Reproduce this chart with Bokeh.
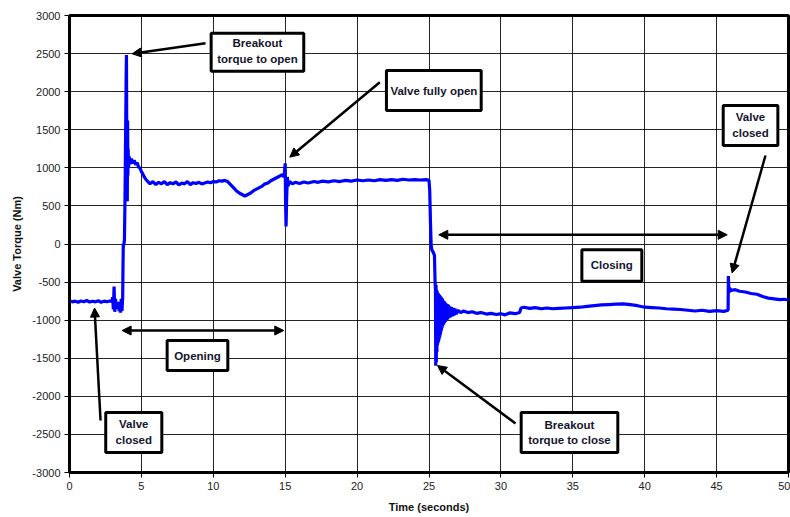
from bokeh.plotting import figure
from bokeh.models import Range1d, FixedTicker, BoxAnnotation, Label, Arrow, NormalHead
from bokeh.embed import file_html
from bokeh.resources import INLINE

# ---- data ----
time_s = [0.0, 0.2, 0.4, 0.6, 0.8, 1.0, 1.2, 1.4, 1.6, 1.8, 2.0, 2.2, 2.4, 2.6, 2.8, 2.95,
          3.0, 3.05, 3.1, 3.15, 3.2, 3.25, 3.3, 3.35, 3.4, 3.45, 3.5, 3.55, 3.6, 3.65, 3.68,
          3.70, 3.72, 3.74, 3.78, 3.82, 3.86, 3.90, 3.94, 3.96, 3.98, 4.0, 4.02, 4.04, 4.06,
          4.08, 4.1, 4.15, 4.2, 4.3, 4.4, 4.5, 4.6, 4.7, 4.8, 4.9, 5.0, 5.1, 5.2, 5.3, 5.4,
          5.6, 5.8, 6.0, 6.2, 6.4, 6.6, 6.8, 7.0, 7.2, 7.4, 7.6, 7.8, 8.0, 8.2, 8.4, 8.6, 8.8,
          9.0, 9.2, 9.4, 9.6, 9.8, 10.0, 10.2, 10.4, 10.6, 10.8, 11.0, 11.2, 11.4, 11.6, 11.8,
          12.0, 12.2, 12.4, 12.6, 12.8, 13.0, 13.2, 13.4, 13.6, 13.8, 14.0, 14.2, 14.4, 14.6,
          14.8, 14.9, 14.95, 15.0, 15.03, 15.06, 15.1, 15.15, 15.2, 15.3, 15.5, 15.7, 16.0,
          16.3, 16.6, 17.0, 17.3, 17.6, 18.0, 18.4, 18.8, 19.2, 19.6, 20.0, 20.4, 20.8, 21.2,
          21.6, 22.0, 22.4, 22.8, 23.2, 23.6, 24.0, 24.4, 24.8, 25.0, 25.05, 25.1, 25.15, 25.2,
          25.3, 25.38, 25.42, 25.45, 25.47, 25.49, 25.51, 25.53, 25.55, 25.57, 25.59, 25.61,
          25.63, 25.65, 25.67, 25.69, 25.71, 25.73, 25.75, 25.77, 25.79, 25.81, 25.83, 25.85,
          25.87, 25.89, 25.91, 25.93, 25.95, 25.98, 26.01, 26.04, 26.07, 26.1, 26.14, 26.18,
          26.22, 26.26, 26.3, 26.35, 26.4, 26.45, 26.5, 26.56, 26.62, 26.68, 26.74, 26.8,
          26.9, 27.0, 27.2, 27.4, 27.7, 28.0, 28.3, 28.6, 29.0, 29.3, 29.7, 30.0, 30.3,
          30.6, 31.0, 31.3, 31.4, 31.6, 32.0, 32.4, 32.8, 33.2, 33.6, 34.0, 34.5, 35.0, 35.5,
          36.0, 36.5, 37.0, 37.5, 38.0, 38.5, 39.0, 39.5, 40.0, 40.5, 41.0, 41.5, 42.0, 42.5,
          43.0, 43.5, 44.0, 44.5, 45.0, 45.5, 45.8, 45.82, 45.86, 45.9, 46.0, 46.3, 46.6, 47.0,
          47.4, 47.8, 48.2, 48.6, 49.0, 49.4, 49.7, 50.0]
torque_nm = [-745, -760, -750, -765, -748, -758, -742, -762, -752, -760, -745, -765, -750, -758, -748, -755,
             -700, -860, -560, -890, -720, -850, -790, -830, -760, -880, -780, -900, -720, -880, -760,
             -700, -300, -20, 0, 50, 600, 1400, 2200, 2480, 1500, 700, 560, 1620, 900,
             1250, 1000, 1150, 1050, 1120, 1060, 1100, 1040, 1070, 1010, 1000, 950, 920, 880, 850, 830,
             790, 820, 780, 810, 790, 820, 780, 805, 790, 815, 775, 800, 790, 820, 780, 805, 795,
             810, 790, 800, 815, 805, 820, 815, 830, 825, 835, 820, 780, 740, 700, 670,
             650, 630, 650, 670, 700, 720, 740, 760, 790, 800, 830, 850, 870, 890,
             910, 880, 940, 1060, 500, 230, 600, 880, 760, 820, 790, 810, 795,
             815, 800, 820, 810, 825, 815, 830, 820, 835, 825, 840, 830, 840, 830,
             845, 835, 845, 835, 850, 840, 845, 840, 845, 835, 700, 300, -20, -80,
             -110, -150, -480, -600, -1600, -540, -1550, -600, -1420, -620, -1330, -640,
             -1300, -650, -1280, -660, -1250, -670, -1220, -680, -1190, -690, -1160, -700,
             -1130, -710, -1100, -720, -1080, -740, -1060, -750, -1040, -760, -1020, -780,
             -1000, -790, -990, -800, -970, -820, -960, -830, -950, -840, -940, -850,
             -920, -870, -900, -880, -900, -890, -910, -900, -920, -910, -925, -915, -930,
             -905, -915, -900, -840, -830, -845, -835, -850, -840, -850, -845, -840, -835, -830,
             -820, -810, -800, -795, -790, -785, -795, -810, -830, -835, -840, -850, -855, -860,
             -870, -880, -870, -885, -875, -885, -870, -420, -640, -580, -610, -600, -620, -630,
             -650, -660, -690, -710, -720, -730, -725, -735]

x_ticks = [0, 5, 10, 15, 20, 25, 30, 35, 40, 45, 50]
x_tick_labels = ["0", "5", "10", "15", "20", "25", "30", "35", "40", "45", "50"]
y_ticks = [-3000, -2500, -2000, -1500, -1000, -500, 0, 500, 1000, 1500, 2000, 2500, 3000]
y_tick_labels = ["-3000", "-2500", "-2000", "-1500", "-1000", "-500", "0", "500", "1000",
                 "1500", "2000", "2500", "3000"]

FONT = "Liberation Sans"
TXT = "#15152e"

p = figure(width=790, height=517, output_backend="svg", toolbar_location=None,
           x_range=Range1d(0, 50), y_range=Range1d(-3000, 3000),
           min_border_left=69, min_border_right=2, min_border_top=15, min_border_bottom=45)
p.background_fill_color = "white"
p.border_fill_color = "white"
p.outline_line_color = "black"
p.outline_line_width = 3

p.xaxis.ticker = FixedTicker(ticks=x_ticks)
p.yaxis.ticker = FixedTicker(ticks=y_ticks)
p.xaxis.major_label_overrides = {t: l for t, l in zip(x_ticks, x_tick_labels)}
p.yaxis.major_label_overrides = {t: l for t, l in zip(y_ticks, y_tick_labels)}

for ax in (p.xaxis[0], p.yaxis[0]):
    ax.axis_line_color = "black"
    ax.axis_line_width = 3
    ax.major_tick_out = 5
    ax.major_tick_in = 0
    ax.minor_tick_out = 0
    ax.minor_tick_in = 0
    ax.major_tick_line_color = "black"
    ax.major_tick_line_width = 1
    ax.major_label_text_font = FONT
    ax.major_label_text_font_size = "11px"
    ax.major_label_text_color = "#222222"
    ax.major_label_standoff = 4
    ax.axis_label_text_font = FONT
    ax.axis_label_text_font_size = "11px"
    ax.axis_label_text_font_style = "bold"
    ax.axis_label_text_color = "#111111"

p.xaxis.axis_label = "Time (seconds)"
p.yaxis.axis_label = "Valve Torque (Nm)"
p.xaxis.axis_label_standoff = 8
p.yaxis.axis_label_standoff = 6

p.grid.grid_line_color = "black"
p.grid.grid_line_alpha = 0.85
p.grid.grid_line_width = 1

p.line(time_s, torque_nm, line_color="#0000ff", line_width=3.2)

# ---- annotations ----
boxes = [
    (9.85, 16.29, 2768, 2269),
    (22.04, 28.63, 2278, 1753),
    (45.46, 49.26, 1818, 1293),
    (35.63, 39.80, -76, -488),
    (6.79, 11.01, -1267, -1661),
    (2.52, 6.42, -2212, -2737),
    (31.41, 38.13, -2212, -2737),
]
for l, r, t, b in boxes:
    p.add_layout(BoxAnnotation(left=l, right=r, top=t, bottom=b, fill_color="white",
                               fill_alpha=1.0, line_color="black", line_width=3, line_alpha=1.0))

texts = [
    (13.07, 2636, "Breakout"), (13.07, 2431, "torque to open"),
    (25.34, 2015, "Valve fully open"),
    (47.36, 1665, "Valve"), (47.36, 1455, "closed"),
    (37.71, -282, "Closing"),
    (8.90, -1464, "Opening"),
    (4.47, -2361, "Valve"), (4.47, -2567, "closed"),
    (34.77, -2370, "Breakout"), (34.77, -2567, "torque to close"),
]
for x, y, s in texts:
    p.add_layout(Label(x=x, y=y, text=s, text_align="center", text_baseline="middle",
                       text_font=FONT, text_font_size="11.5px", text_font_style="bold",
                       text_color=TXT))

def head():
    return NormalHead(size=9, fill_color="black", line_color="black", line_width=1)

arrows = [
    (9.46, 2636, 4.36, 2497, False),
    (21.58, 2124, 15.32, 1140, False),
    (48.40, 1162, 46.08, -380, False),
    (25.68, 121, 45.74, 121, True),
    (3.66, -1136, 14.90, -1136, True),
    (2.16, -2317, 1.74, -840, False),
    (31.02, -2357, 25.59, -1595, False),
]
for x0, y0, x1, y1, both in arrows:
    p.add_layout(Arrow(x_start=x0, y_start=y0, x_end=x1, y_end=y1,
                       start=head() if both else None, end=head(),
                       line_color="black", line_width=2.5))

open("out.html", "w").write(file_html(p, INLINE))
